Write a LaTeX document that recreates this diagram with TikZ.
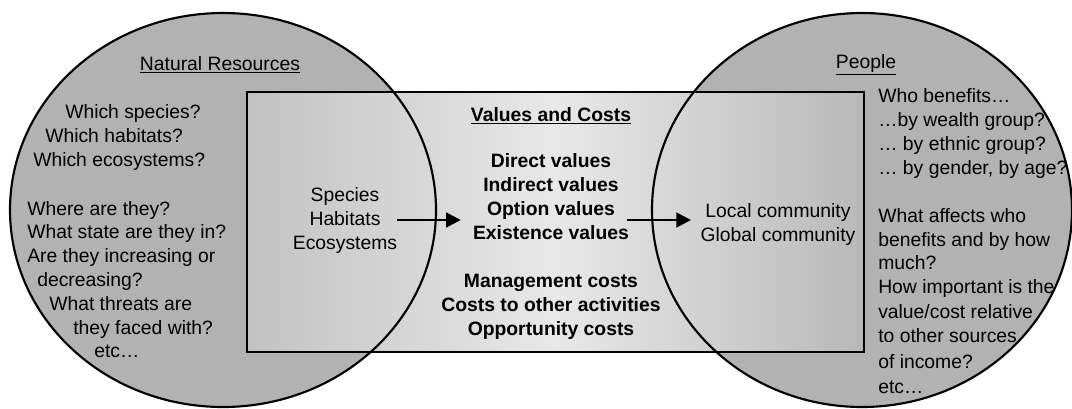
\documentclass[tikz,border=0pt]{standalone}
\usepackage{fontspec}
\setmainfont{Liberation Sans}
\usetikzlibrary{arrows.meta}
\definecolor{circfill}{HTML}{B2B2B2}
\definecolor{boxedge}{HTML}{C2C2C2}
\definecolor{boxmid}{HTML}{E8E8E8}

\begin{document}
\begin{tikzpicture}[x=0.75pt,y=-0.75pt,
  txt/.style={inner sep=0pt, font=\fontsize{14.5pt}{18pt}\selectfont},
  btxt/.style={txt, font=\fontsize{14.5pt}{18pt}\selectfont\bfseries, align=center},
  circline/.style={line width=1.6pt},
  flow/.style={line width=2pt, -{Triangle[length=11pt,width=11pt]}}]
\useasboundingbox (0,0) rectangle (1072,408);

% the two circles, filled first
\fill[circfill] (223,210) ellipse [x radius=213, y radius=197];
\fill[circfill] (862,210) ellipse [x radius=210, y radius=197];

% values box with shading
\draw[line width=1.4pt, left color=boxedge, right color=boxedge!95!black, middle color=boxmid]
  (247,92) rectangle (864,352);

% circle outlines on top
\draw[circline] (223,210) ellipse [x radius=213, y radius=197];
\draw[circline] (862,210) ellipse [x radius=210, y radius=197];

% headings
\node[txt, anchor=base] (natres) at (220,70) {\underline{Natural Resources}};
\node[txt, anchor=base] (people) at (866,68) {\underline{People}};
\node[btxt, anchor=base] (vctitle) at (551,121) {\underline{Values and Costs}};

% questions about resources
\foreach \i/\x/\y/\t in {1/65/118/Which species?, 2/45/142/Which habitats?,
    3/33/166/Which ecosystems?, 4/27/215/Where are they?,
    5/27/238/What state are they in?, 6/27/262/Are they increasing or,
    7/37/286/decreasing?, 8/49/310/What threats are,
    9/73/334/they faced with?, 10/94/357/etc…}
  \node[txt, anchor=base west] (nat\i) at (\x,\y) {\t};

% questions about people
\foreach \i/\y/\t in {1/102/Who benefits…, 2/126/…by wealth group?,
    3/150/… by ethnic group?, 4/174/{… by gender, by age?},
    5/222/What affects who, 6/246/benefits and by how, 7/269/much?,
    8/293/How important is the, 9/318/{value/cost relative},
    10/342/to other sources, 11/368/of income?, 12/393/etc…}
  \node[txt, anchor=base west] (ppl\i) at (878,\y) {\t};

% inner blocks
\node[txt, align=center] (res) at (345,220) {Species\\Habitats\\Ecosystems};
\node[btxt] (vals) at (551,197) {Direct values\\Indirect values\\Option values\\Existence values};
\node[btxt] (costs) at (551,307) {Management costs\\Costs to other activities\\Opportunity costs};
\node[txt, align=center] (comm) at (778,224) {Local community\\Global community};

% arrows
\draw[flow, shorten >=9pt] (res.east) -- (res.east -| vals.west);
\draw[flow, shorten <=-2pt, shorten >=7pt] (vals.east |- res.east) -- (comm.west |- res.east);
\end{tikzpicture}
\end{document}
